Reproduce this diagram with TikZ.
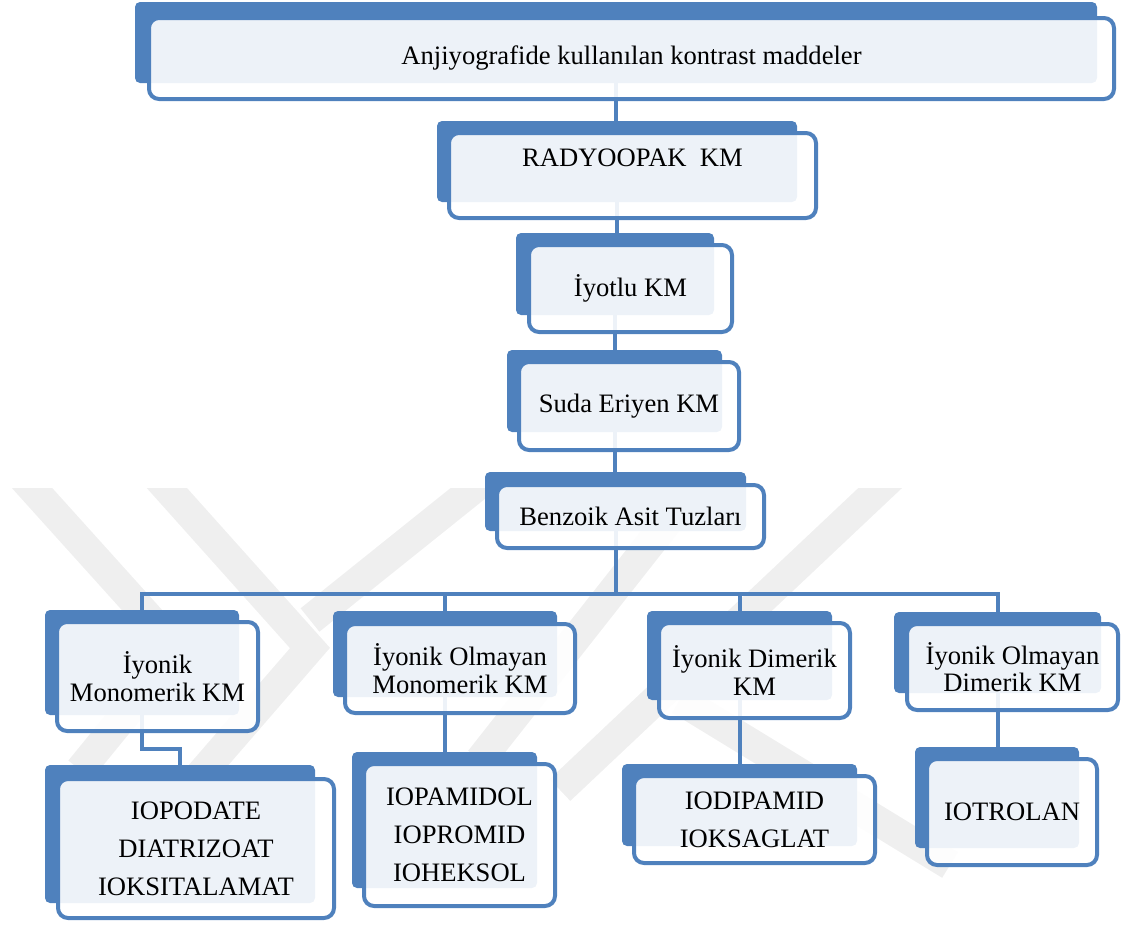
\documentclass[tikz,border=0pt]{standalone}
\usepackage{fontspec}
\setmainfont{Liberation Serif}
\usetikzlibrary{calc}
\definecolor{kmblue}{HTML}{4F81BD}
\definecolor{wmgray}{HTML}{EFEFEF}
\pgfdeclarelayer{wm}
\pgfdeclarelayer{bg}
\pgfsetlayers{wm,bg,main}
\newcommand\lblfont{\fontsize{13.3}{13.7}\selectfont}
\newcommand\listfont{\fontsize{13.3}{19}\selectfont}
\tikzset{
  dbox/.style={draw=none, fill=kmblue, rounded corners=2.5pt, inner sep=0pt, outer sep=0pt},
  wbox/.style={draw=kmblue, line width=2pt, fill=white, fill opacity=0.9, text opacity=1,
               rounded corners=5pt, inner sep=0pt, outer sep=0pt, align=center, font=\lblfont},
  lbox/.style={wbox, font=\listfont},
  txt/.style={inner sep=0pt, font=\lblfont},
  conn/.style={draw=kmblue, line width=2pt},
  wmband/.style={draw=wmgray, line width=15pt, line cap=butt, line join=miter},
}
\begin{document}
\begin{tikzpicture}[x=0.5pt,y=-0.5pt]
\useasboundingbox (0,0) rectangle (1121,927);

% level 1
\node[dbox, minimum width=481pt,  minimum height=40.5pt] (d1) at (616,42.5) {};
\node[wbox, minimum width=482.5pt,minimum height=40.5pt] (w1) at (631.5,58.5) {Anjiyografide kullanılan kontrast maddeler};
% level 2
\node[dbox, minimum width=180pt,  minimum height=40.5pt] (d2) at (617,161.5) {};
\node[wbox, minimum width=183.5pt,minimum height=42.5pt] (w2) at (632.5,175.5) {};
\node[txt] (t2) at (632.5,158) {RADYOOPAK\ \ KM};
% level 3
\node[dbox, minimum width=99pt,   minimum height=41pt] (d3) at (615,274) {};
\node[wbox, minimum width=101.5pt,minimum height=43.5pt] (w3) at (630.5,288.5) {İyotlu KM};
% level 4
\node[dbox, minimum width=107.5pt,minimum height=41pt] (d4) at (614.5,391) {};
\node[wbox, minimum width=110pt,  minimum height=44pt] (w4) at (629,406) {Suda Eriyen KM};
% level 5
\node[dbox, minimum width=130.5pt,minimum height=29.5pt] (d5) at (615.5,501.5) {};
\node[wbox, minimum width=133.5pt,minimum height=31.5pt] (w5) at (630.5,516.5) {Benzoik Asit Tuzları};
% level 6
\node[dbox, minimum width=97pt,   minimum height=52.5pt] (d6) at (142,662.5) {};
\node[wbox, minimum width=100.5pt,minimum height=54.5pt] (w6) at (157.5,676.5) {İyonik\\Monomerik KM};
\node[dbox, minimum width=112pt,  minimum height=43pt] (d7) at (445,654) {};
\node[wbox, minimum width=115pt,  minimum height=44.5pt] (w7) at (460,668.5) {İyonik Olmayan\\Monomerik KM};
\node[dbox, minimum width=92.5pt, minimum height=44.5pt] (d8) at (739.5,655.5) {};
\node[wbox, minimum width=95.5pt, minimum height=47.5pt] (w8) at (754.5,670.5) {İyonik Dimerik\\KM};
\node[dbox, minimum width=103.5pt,minimum height=40.5pt] (d9) at (997.5,652.5) {};
\node[wbox, minimum width=105.5pt,minimum height=43pt] (w9) at (1012.5,667) {İyonik Olmayan\\Dimerik KM};
% level 7
\node[dbox, minimum width=135pt,  minimum height=69pt] (d10) at (180,834) {};
\node[lbox, minimum width=138pt,  minimum height=69.5pt] (w10) at (196,848.5) {IOPODATE\\DIATRIZOAT\\IOKSITALAMAT};
\node[dbox, minimum width=92.5pt, minimum height=68pt] (d11) at (444.5,820) {};
\node[lbox, minimum width=95.5pt, minimum height=71pt] (w11) at (459.5,835) {IOPAMIDOL\\IOPROMID\\IOHEKSOL};
\node[dbox, minimum width=117.5pt,minimum height=41pt] (d12) at (739.5,805) {};
\node[lbox, minimum width=120.5pt,minimum height=43.5pt] (w12) at (754.5,819.5) {IODIPAMID\\IOKSAGLAT};
\node[dbox, minimum width=82pt,   minimum height=50.5pt] (d13) at (997,797.5) {};
\node[lbox, minimum width=85pt,   minimum height=53pt] (w13) at (1012,812) {IOTROLAN};

% connectors (behind the boxes)
\coordinate (bar) at (615,594);
\coordinate (e6) at (0,749);
\begin{pgfonlayer}{bg}
\draw[conn] (d1.center) -- (d1.center |- d2.center);
\draw[conn] (d2.center) -- (d2.center |- d3.center);
\draw[conn] (d3.center) -- (d3.center |- d4.center);
\draw[conn] (d4.center) -- (d4.center |- d5.center);
\draw[conn] (d5.center) -- (d5.center |- bar);
\draw[conn] (d6.center) |- (d9.center |- bar) -- (d9.center);
\draw[conn] (d7.center) -- (d7.center |- bar);
\draw[conn] (d8.center) -- (d8.center |- bar);
\draw[conn] (d6.center) -- (d6.center |- e6) -| (d10.center);
\draw[conn] (d7.center) -- (d7.center |- d11.center);
\draw[conn] (d8.center) -- (d8.center |- d12.center);
\draw[conn] (d9.center) -- (d9.center |- d13.center);
\end{pgfonlayer}

% faint watermark
\begin{pgfonlayer}{wm}
\begin{scope}
\clip (0,488) rectangle (1121,927);
\draw[wmband] (5,458) -- (178,650) -- (80,770);
\draw[wmband] (140,458) -- (310,648) -- (200,775);
\draw[wmband] (512,458) -- (310,620);
\draw[wmband] (912,458) -- (560,790);
\draw[wmband] (720,455) -- (480,760);
\draw[wmband] (680,700) -- (950,865);
\end{scope}
\end{pgfonlayer}
\end{tikzpicture}
\end{document}
